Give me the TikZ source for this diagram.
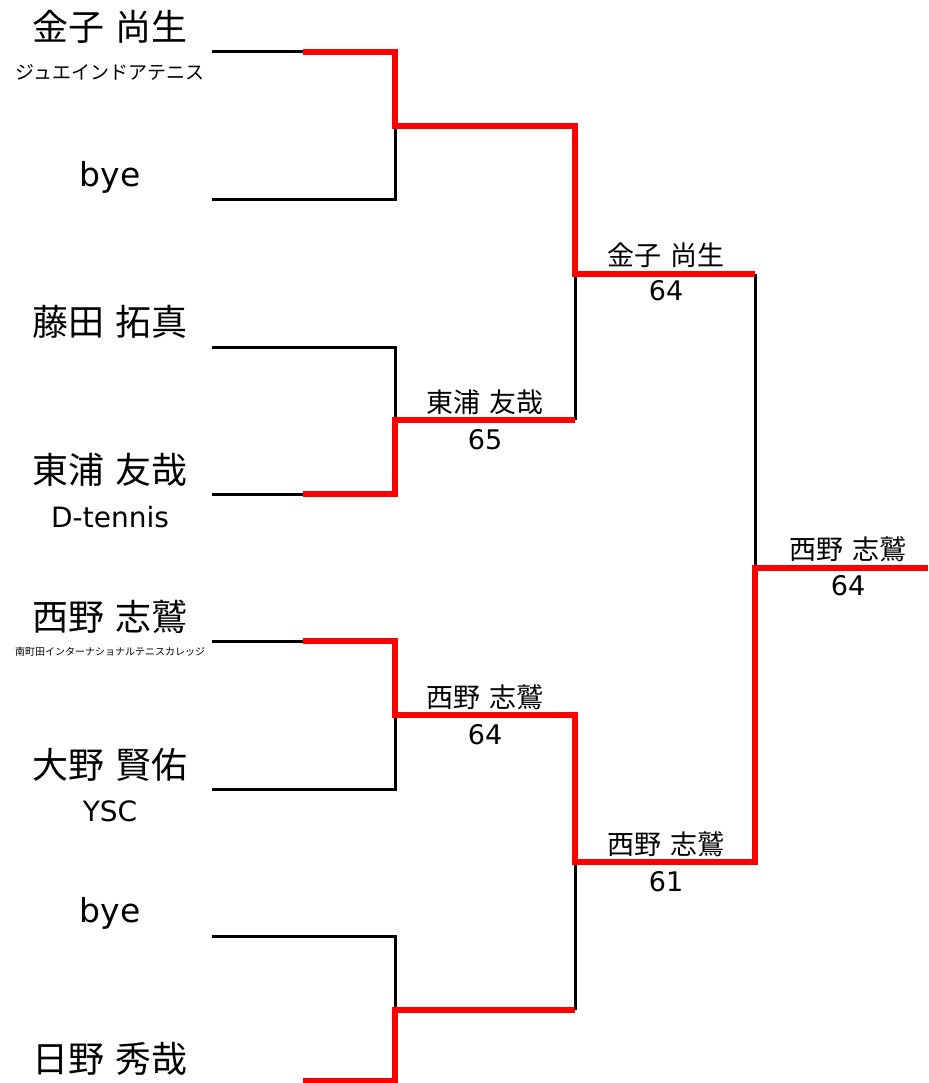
\documentclass[tikz,border=0pt]{standalone}
\usepackage{fontspec}
\setmainfont{DejaVu Sans}
\newfontfamily\cjk{Noto Sans CJK JP}
\newcommand\jn[2]{{\cjk #1} {\cjk #2}}
\begin{document}
\begin{tikzpicture}[x=1pt,y=-1pt,
  blk/.style={line width=3pt,black,line join=miter},
  win/.style={line width=5.5pt,red,line join=miter},
  pname/.style={inner sep=0pt,font=\fontsize{36}{40}\selectfont},
  pbye/.style={inner sep=0pt,font=\fontsize{33}{38}\selectfont},
  pclub/.style={inner sep=0pt,font=\fontsize{28}{32}\selectfont},
  rlabel/.style={inner sep=0pt,font=\fontsize{27}{30}\selectfont}]
\useasboundingbox (0,0) rectangle (928,1083);
% coordinates: player lines
\coordinate (a1) at (212,52);  \coordinate (b1) at (303,52);  \coordinate (c1) at (395,52);
\coordinate (a2) at (212,200); \coordinate (c2) at (395,200);
\coordinate (a3) at (212,347); \coordinate (c3) at (395,347);
\coordinate (a4) at (212,494); \coordinate (b4) at (303,494); \coordinate (c4) at (395,494);
\coordinate (a5) at (212,641); \coordinate (b5) at (303,641); \coordinate (c5) at (395,641);
\coordinate (a6) at (212,789); \coordinate (c6) at (395,789);
\coordinate (a7) at (212,936); \coordinate (c7) at (395,936);
\coordinate (b8) at (303,1081); \coordinate (c8) at (395,1081);
% round 1 matches
\coordinate (m1) at (395,126); \coordinate (n1) at (575,126);
\coordinate (m2) at (395,420); \coordinate (n2) at (575,420);
\coordinate (m3) at (395,715); \coordinate (n3) at (575,715);
\coordinate (m4) at (395,1010); \coordinate (n4) at (575,1010);
% semis
\coordinate (s1) at (575,274); \coordinate (t1) at (755,274);
\coordinate (s2) at (575,862); \coordinate (t2) at (755,862);
% final
\coordinate (f) at (755,568); \coordinate (g) at (928,568);

% black lines
\draw[blk] (a1) -- (b1);
\draw[blk] (a2) -- (c2) -- (m1);
\draw[blk] (a3) -- (c3) -- (m2);
\draw[blk] (a4) -- (b4);
\draw[blk] (n2) -- (s1);
\draw[blk] (t1) -- (f);
\draw[blk] (a5) -- (b5);
\draw[blk] (a6) -- (c6) -- (m3);
\draw[blk] (a7) -- (c7) -- (m4);
\draw[blk] (n4) -- (s2);
% winner lines
\draw[win] (b1) -- (c1) -- (m1) -- (n1) -- (s1) -- (t1);
\draw[win] (b4) -- (c4) -- (m2) -- (n2);
\draw[win] (b5) -- (c5) -- (m3) -- (n3) -- (s2) -- (t2) -- (f) -- (g);
\draw[win] (b8) -- (c8) -- (m4) -- (n4);

% players
\node[pname] (p1) at (110,27) {\jn{金子}{尚生}};
\node[inner sep=0pt,font=\fontsize{19}{22}\selectfont\cjk] (p1c) at (110,72) {ジュエインドアテニス};
\node[pbye] (p2) at (110,177) {bye};
\node[pname] (p3) at (110,322) {\jn{藤田}{拓真}};
\node[pname] (p4) at (110,470) {\jn{東浦}{友哉}};
\node[pclub] (p4c) at (110,517) {D-tennis};
\node[pname] (p5) at (110,617) {\jn{西野}{志鷲}};
\node[inner sep=0pt,font=\fontsize{10}{12}\selectfont\cjk] (p5c) at (110,652) {南町田インターナショナルテニスカレッジ};
\node[pname] (p6) at (110,765) {\jn{大野}{賢佑}};
\node[pclub] (p6c) at (110,811) {YSC};
\node[pbye] (p7) at (110,913) {bye};
\node[pname] (p8) at (110,1059) {\jn{日野}{秀哉}};

% round labels
\node[rlabel] (w2) at (485,402) {\jn{東浦}{友哉}};
\node[rlabel] (w2s) at (485,440) {65};
\node[rlabel] (w3) at (485,697) {\jn{西野}{志鷲}};
\node[rlabel] (w3s) at (485,735) {64};
\node[rlabel] (sf1) at (666,255) {\jn{金子}{尚生}};
\node[rlabel] (sf1s) at (666,291) {64};
\node[rlabel] (sf2) at (666,844) {\jn{西野}{志鷲}};
\node[rlabel] (sf2s) at (666,882) {61};
\node[rlabel] (fin) at (848,549) {\jn{西野}{志鷲}};
\node[rlabel] (fins) at (848,586) {64};
\end{tikzpicture}
\end{document}
